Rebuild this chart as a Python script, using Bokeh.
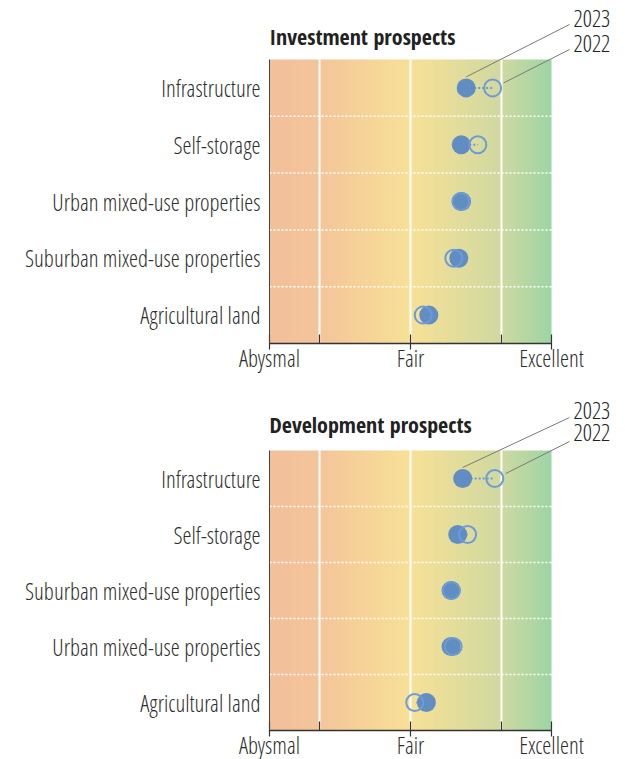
import numpy as np
from bokeh.plotting import figure
from bokeh.layouts import column
from bokeh.models import Range1d, FixedTicker, Label, Arrow
from bokeh.embed import file_html
from bokeh.resources import INLINE

# ---------------- data ----------------
scale_ticks = [1, 5, 9]
scale_labels = ["Abysmal", "Fair", "Excellent"]
guide_lines = [2.42, 5, 7.58]
minor_marks = [2.42, 7.58]
row_breaks = [1, 2, 3, 4]

inv_title = "Investment prospects"
inv_categories = ["Infrastructure", "Self-storage", "Urban mixed-use properties",
                  "Suburban mixed-use properties", "Agricultural land"]
inv_2023 = [6.58, 6.44, 6.45, 6.37, 5.52]
inv_2022 = [7.33, 6.91, 6.43, 6.23, 5.36]

dev_title = "Development prospects"
dev_categories = ["Infrastructure", "Self-storage", "Suburban mixed-use properties",
                  "Urban mixed-use properties", "Agricultural land"]
dev_2023 = [6.48, 6.34, 6.15, 6.15, 5.45]
dev_2022 = [7.39, 6.62, 6.16, 6.21, 5.12]

years = ["2023", "2022"]

# ---------------- style ----------------
FONT = "Open Sans Condensed Light"
TITLE_FONT = "Open Sans Condensed"
FS = "23px"
TEXT = "#2e2e2e"
FILL23 = "#5a89c4"
LINE22 = "#6c9bd8"
X0, X1 = 1, 9
N_ROWS = 5
SCALE_PX = 282          # width of the coloured scale
FRAME_W = 351           # frame also holds the year call-outs on the right

stops_t = [0.0, 0.17, 0.5, 0.83, 1.0]
stops_rgb = [(242, 192, 154), (244, 197, 154), (248, 225, 151), (207, 217, 161), (158, 213, 166)]


def gradient_image(n):
    t = np.linspace(0, 1, n)
    img = np.empty((1, n), dtype=np.uint32)
    view = img.view(dtype=np.uint8).reshape((1, n, 4))
    for c in range(3):
        view[0, :, c] = np.interp(t, stops_t, [s[c] for s in stops_rgb]).astype(np.uint8)
    view[0, :, 3] = 255
    return img


def make_panel(title, cats, v23, v22, row_px, extra_top, top, bottom,
               title_up, text_up, end_up):
    ppx = SCALE_PX / (X1 - X0)
    ppy = row_px
    frame_h = int(round(N_ROWS * row_px + extra_top))
    p = figure(frame_width=FRAME_W, frame_height=frame_h,
               min_border_left=269, min_border_right=4,
               min_border_top=top, min_border_bottom=bottom,
               x_range=Range1d(X0, X0 + FRAME_W / ppx),
               y_range=Range1d(0, frame_h / ppy),
               output_backend="svg", toolbar_location=None,
               outline_line_color=None, background_fill_color="white")
    p.xgrid.visible = False
    p.ygrid.visible = False

    p.image_rgba(image=[gradient_image(SCALE_PX)], x=X0, y=0, dw=X1 - X0, dh=N_ROWS, level="image")

    ys = [N_ROWS - 0.5 - i for i in range(len(cats))]

    p.segment(x0=guide_lines, x1=guide_lines, y0=0, y1=N_ROWS, line_color="white", line_width=2)
    p.segment(x0=X0, x1=X1, y0=row_breaks, y1=row_breaks, line_color="white",
              line_width=1.5, line_dash="2 2")

    xa = p.xaxis[0]
    xa.bounds = (X0, X1)
    xa.ticker = FixedTicker(ticks=scale_ticks, minor_ticks=minor_marks)
    xa.major_label_overrides = dict(zip(scale_ticks, scale_labels))
    xa.major_tick_in = 9
    xa.major_tick_out = 6
    xa.minor_tick_in = 9
    xa.minor_tick_out = 0
    xa.axis_line_color = "#333333"
    xa.axis_line_width = 1.5
    xa.major_tick_line_color = "#333333"
    xa.minor_tick_line_color = "#333333"
    xa.major_tick_line_width = 1.2
    xa.minor_tick_line_width = 1.2
    xa.major_label_standoff = -8
    xa.major_label_text_font = FONT
    xa.major_label_text_font_size = FS
    xa.major_label_text_color = TEXT

    ya = p.yaxis[0]
    ya.bounds = (0, N_ROWS)
    ya.ticker = FixedTicker(ticks=ys)
    ya.major_label_overrides = dict(zip(ys, cats))
    ya.major_tick_in = 0
    ya.major_tick_out = 0
    ya.minor_tick_in = 0
    ya.minor_tick_out = 0
    ya.axis_line_color = "#444444"
    ya.axis_line_width = 1
    ya.major_label_standoff = 9
    ya.major_label_text_font = FONT
    ya.major_label_text_font_size = FS
    ya.major_label_text_color = TEXT

    p.segment(x0=v23, x1=v22, y0=ys, y1=ys, line_color=LINE22, line_width=2, line_dash="2 2")
    p.scatter(x=v23, y=ys, size=19, fill_color=FILL23, line_color=None, fill_alpha=0.95)
    p.scatter(x=v22, y=ys, size=17, fill_color=None, line_color=LINE22, line_width=2)

    p.add_layout(Label(x=X0, y=N_ROWS, y_offset=title_up, text=title,
                       text_font=TITLE_FONT, text_font_style="bold", text_font_size="22px",
                       text_color="#222222", text_align="left", text_baseline="middle"))

    text_x = X0 + 304 / ppx
    end_x = X0 + 300 / ppx
    starts = [(v23[0], ys[0] + 11 / ppy), (v22[0] + 11 / ppx, ys[0] + 5 / ppy)]
    for yr, (sx, sy), tu, eu in zip(years, starts, text_up, end_up):
        p.add_layout(Arrow(end=None, x_start=sx, y_start=sy,
                           x_end=end_x, y_end=N_ROWS + eu / ppy,
                           line_color="#7a7a7a", line_width=1))
        p.add_layout(Label(x=text_x, y=N_ROWS, y_offset=tu, text=yr,
                           text_font=FONT, text_font_size=FS, text_color="#222222",
                           text_align="left", text_baseline="middle"))
    return p


p1 = make_panel(inv_title, inv_categories, inv_2023, inv_2022, 56.8, 55, 4, 0,
                24, [41, 16], [35, 10])
p2 = make_panel(dev_title, dev_categories, dev_2023, dev_2022, 56.0, 74, 0, 0,
                27, [40, 18], [33, 9])

layout = column(p1, p2, spacing=0)
open("out.html", "w").write(file_html(layout, INLINE))
